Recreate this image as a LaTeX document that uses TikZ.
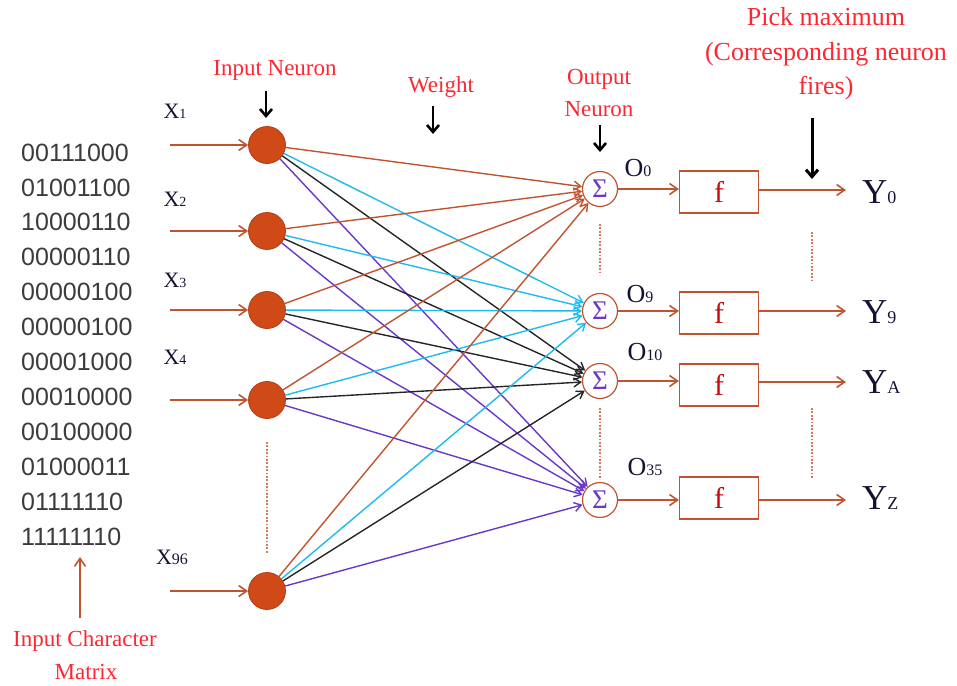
\documentclass[tikz,border=0pt]{standalone}
\usepackage{fontspec}
\setmainfont{Liberation Serif}
\newfontfamily\matfont{Liberation Sans}
\usetikzlibrary{arrows.meta}
\definecolor{brn}{RGB}{192,84,48}
\definecolor{nfill}{RGB}{208,74,24}
\definecolor{ndraw}{RGB}{176,62,24}
\definecolor{cyn}{RGB}{30,186,240}
\definecolor{prp}{RGB}{104,56,200}
\definecolor{lblred}{RGB}{250,40,50}
\definecolor{fred}{RGB}{200,10,10}
\definecolor{navy}{RGB}{20,20,50}
\definecolor{matgray}{RGB}{60,60,60}
\definecolor{dotc}{RGB}{214,120,90}
\newcommand\smidx[2]{{\fontsize{#1}{#1}\selectfont #2}}
\begin{document}
\begin{tikzpicture}[x=1pt,y=-1pt,
 inneuron/.style={circle, fill=nfill, draw=ndraw, line width=0.8pt, minimum size=37pt, inner sep=0pt},
 outneuron/.style={circle, fill=white, draw=brn, line width=1.2pt, minimum size=35pt, inner sep=0pt, text=prp, font=\fontsize{27}{27}\selectfont},
 fbox/.style={draw=brn, line width=1.2pt, minimum width=79pt, minimum height=42pt, inner sep=0pt, text=fred, font=\fontsize{30}{30}\selectfont},
 redlbl/.style={text=lblred, font=\fontsize{23}{23}\selectfont, inner sep=0pt},
 bigred/.style={text=lblred, font=\fontsize{26}{26}\selectfont, inner sep=0pt},
 conn/.style={line width=1.4pt, -{Straight Barb[length=7pt,width=9pt]}},
 feed/.style={draw=brn, line width=1.6pt, -{Straight Barb[length=8pt,width=11pt]}},
 pointer/.style={draw=black, line width=2.6pt, -{Straight Barb[length=7pt,width=12pt]}},
 dotline/.style={draw=dotc, line width=2.4pt, dash pattern=on 1.8pt off 1.6pt},
 mat/.style={text=matgray, font=\matfont\fontsize{25}{25}\selectfont, inner sep=0pt, anchor=west},
 xlbl/.style={text=navy, font=\fontsize{22}{22}\selectfont, inner sep=0pt},
 olbl/.style={text=navy, font=\fontsize{26}{26}\selectfont, inner sep=0pt},
 ylbl/.style={text=navy, font=\fontsize{35}{35}\selectfont, inner sep=0pt, anchor=west}
]
\useasboundingbox (0,0) rectangle (957,685);

% input character matrix
\foreach \k/\yy/\txt in {1/152.5/00111000, 2/187.4/01001100, 3/222.3/10000110, 4/257.2/00000110,
  5/292.1/00000100, 6/327/00000100, 7/361.9/00001000, 8/396.8/00010000,
  9/431.7/00100000, 10/466.6/01000011, 11/501.5/01111110, 12/536.4/11111110}
  {\node[mat] (m\k) at (21,\yy) {\txt};}

\node[redlbl] (lchar1) at (85,641) {Input Character};
\node[redlbl] (lchar2) at (86,672) {Matrix};
\coordinate (upA) at (80,618);
\coordinate (upB) at (80,557);
\draw[feed] (upA) -- (upB);

% input neurons
\node[inneuron] (i1) at (267,145) {};
\node[inneuron] (i2) at (267,231) {};
\node[inneuron] (i3) at (267,310) {};
\node[inneuron] (i4) at (267,400) {};
\node[inneuron] (i96) at (267,591) {};

% input feed arrows
\coordinate (a1) at (170,145);
\coordinate (a2) at (170,231);
\coordinate (a3) at (170,310);
\coordinate (a4) at (170,400);
\coordinate (a96) at (170,591);
\foreach \n in {1,2,3,4,96} {\draw[feed] (a\n) -- (i\n);}

\node[xlbl] (x1) at (175,111) {X\smidx{14}{1}};
\node[xlbl] (x2) at (175,199) {X\smidx{14}{2}};
\node[xlbl] (x3) at (175,280) {X\smidx{14}{3}};
\node[xlbl] (x4) at (175,357) {X\smidx{14}{4}};
\node[xlbl] (x96) at (172,557) {X\smidx{16}{96}};

% output neurons
\node[outneuron] (o0) at (600,189) {Σ};
\node[outneuron] (o9) at (600,311) {Σ};
\node[outneuron] (o10) at (600,381) {Σ};
\node[outneuron] (o35) at (600,500) {Σ};

\node[olbl] (lo0) at (638,168) {O\smidx{16}{0}};
\node[olbl] (lo9) at (640,294) {O\smidx{16}{9}};
\node[olbl] (lo10) at (645,352) {O\smidx{16}{10}};
\node[olbl] (lo35) at (645,467) {O\smidx{16}{35}};

% weights
\foreach \s in {i1,i2,i3,i4,i96}{
  \draw[conn,draw=brn] (\s) -- (o0);
  \draw[conn,draw=cyn] (\s) -- (o9);
  \draw[conn,draw=black!85] (\s) -- (o10);
  \draw[conn,draw=prp] (\s) -- (o35);
}

% f boxes
\node[fbox] (f0) at (719,192) {f};
\node[fbox] (f9) at (719,313) {f};
\node[fbox] (f10) at (719,385) {f};
\node[fbox] (f35) at (719,498) {f};

\node[ylbl] (y0) at (862,192) {Y\smidx{18}{0}};
\node[ylbl] (y9) at (862,312) {Y\smidx{18}{9}};
\node[ylbl] (ya) at (862,382) {Y\smidx{18}{A}};
\node[ylbl] (yz) at (862,498) {Y\smidx{18}{Z}};

\coordinate (e0) at (846,190);
\coordinate (e9) at (846,311);
\coordinate (ea) at (846,382);
\coordinate (ez) at (846,500);

\draw[feed] (o0) -- (o0 -| f0.west);
\draw[feed] (o9) -- (o9 -| f9.west);
\draw[feed] (o10) -- (o10 -| f10.west);
\draw[feed] (o35) -- (o35 -| f35.west);
\draw[feed] (e0 -| f0.east) -- (e0);
\draw[feed] (e9 -| f9.east) -- (e9);
\draw[feed] (ea -| f10.east) -- (ea);
\draw[feed] (ez -| f35.east) -- (ez);

% dotted continuation marks
\coordinate (d1a) at (267,442); \coordinate (d1b) at (267,553);
\coordinate (d2a) at (600,224); \coordinate (d2b) at (600,275);
\coordinate (d3a) at (600,408); \coordinate (d3b) at (600,479);
\coordinate (d4a) at (812,232); \coordinate (d4b) at (812,282);
\coordinate (d5a) at (812,408); \coordinate (d5b) at (812,478);
\draw[dotline] (d1a) -- (d1b);
\draw[dotline] (d2a) -- (d2b);
\draw[dotline] (d3a) -- (d3b);
\draw[dotline] (d4a) -- (d4b);
\draw[dotline] (d5a) -- (d5b);

% top labels
\node[redlbl] (linput) at (275,70) {Input Neuron};
\node[redlbl] (lweight) at (441,87) {Weight};
\node[redlbl] (lout1) at (599,79) {Output};
\node[redlbl] (lout2) at (599,109) {Neuron};
\node[bigred] (lpick1) at (826,17) {Pick maximum};
\node[bigred] (lpick2) at (826,54) {(Corresponding neuron};
\node[bigred] (lpick3) at (826,88) {fires)};

\coordinate (p1a) at (266,91); \coordinate (p1b) at (266,118);
\coordinate (p2a) at (433,106); \coordinate (p2b) at (433,134);
\coordinate (p3a) at (600,125); \coordinate (p3b) at (600,152);
\coordinate (p4a) at (812,118); \coordinate (p4b) at (812,179);
\draw[pointer] (p1a) -- (p1b);
\draw[pointer] (p2a) -- (p2b);
\draw[pointer] (p3a) -- (p3b);
\draw[pointer,line width=3pt] (p4a) -- (p4b);
\end{tikzpicture}
\end{document}
